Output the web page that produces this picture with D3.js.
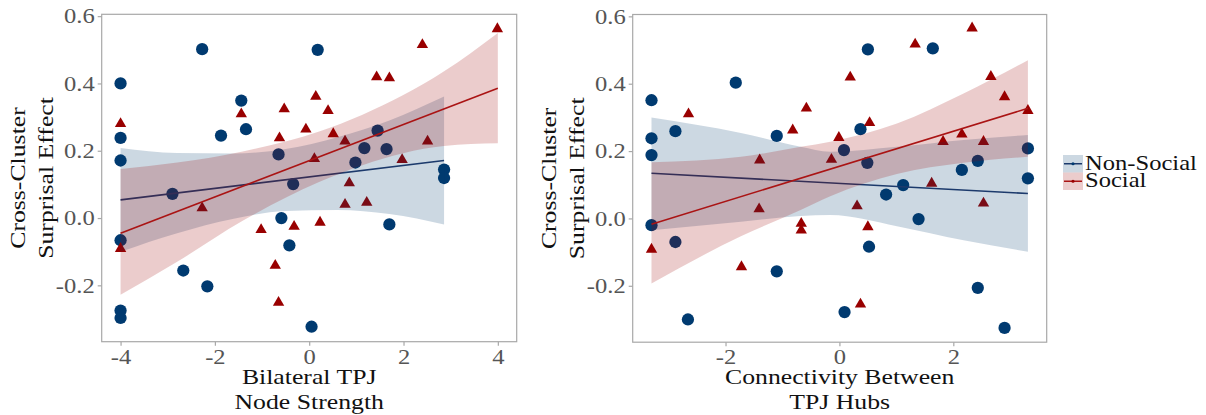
<!DOCTYPE html>
<html lang="en">
<head>
<meta charset="UTF-8">
<title>Cross-Cluster Surprisal Effect</title>
<script src="https://d3js.org/d3.v7.min.js"></script>
<style>
  body { margin: 0; background: #fff; }
  text { font-family: 'Liberation Serif', 'Times New Roman', serif; }
</style>
</head>
<body>
<script>
const width = 1206, height = 415;

// ---- left panel: Bilateral TPJ node strength ----
const leftNsX = [-4, -4, -4, -4, -4, -4, -2.27, -1.44, -1.34, -1.87, -0.65, -0.34, -2.9, -2.67, -2.16, -0.59, -0.42, 1.70, 0.05, 0.18, 1.45, 1.17, 1.64, 0.98, 2.86, 2.86];
const leftNsY = [0.40, 0.238, 0.171, -0.066, -0.275, -0.297, 0.502, 0.349, 0.264, 0.245, 0.189, 0.101, 0.072, -0.156, -0.203, 0.0, -0.081, -0.019, -0.323, 0.50, 0.26, 0.208, 0.205, 0.165, 0.144, 0.119];
const leftSX = [-4, -1.44, -0.53, -0.63, -2.27, -4, -1.02, -0.32, -0.72, -0.65, 0.23, 0.76, 1.22, 3.99, 2.40, 1.43, 1.70, 0.14, 0.40, -0.07, 0.51, 0.76, 2.51, 0.11, 1.97, 0.85];
const leftSY = [0.28, 0.309, 0.324, 0.238, 0.03, -0.091, -0.035, -0.025, -0.141, -0.251, -0.013, 0.04, 0.046, 0.562, 0.515, 0.419, 0.416, 0.361, 0.319, 0.264, 0.25, 0.228, 0.228, 0.176, 0.173, 0.104];

const leftNsBandX = [-4, -2.8, -1.6, -0.5, 0.6, 1.7, 2.86];
const leftNsUpper = [0.208, 0.193, 0.192, 0.205, 0.24, 0.29, 0.361];
const leftNsLower = [-0.100, -0.045, -0.002, 0.021, 0.024, 0.012, -0.019];
const leftNsFitX = [-4, 2.86];
const leftNsFitY = [0.054, 0.171];

const leftSBandX = [-4, -2.8, -1.41, 0.21, 1.13, 2.86, 4];
const leftSUpper = [0.146, 0.165, 0.198, 0.257, 0.307, 0.436, 0.55];
const leftSLower = [-0.228, -0.13, -0.008, 0.107, 0.157, 0.214, 0.222];
const leftSFitX = [-4, 4];
const leftSFitY = [-0.045, 0.386];

// ---- right panel: connectivity between TPJ hubs ----
const rightNsX = [-3.30, -3.30, -3.30, -2.88, -1.82, -1.10, 0.50, 1.64, 0.37, 0.08, 0.49, 3.31, 3.31, 2.43, 2.15, 1.12, 0.82, -3.30, -2.88, -2.66, -1.10, 1.39, 0.52, 2.43, 0.09, 2.90];
const rightNsY = [0.351, 0.238, 0.188, 0.259, 0.403, 0.245, 0.502, 0.505, 0.265, 0.203, 0.165, 0.208, 0.119, 0.171, 0.144, 0.099, 0.071, -0.02, -0.07, -0.30, -0.157, -0.002, -0.084, -0.206, -0.278, -0.325];
const rightSX = [-2.65, -0.82, -1.40, -3.30, -1.41, -1.72, -0.67, -0.67, 0.31, 0.50, 0.37, 2.53, 2.33, 1.33, 0.19, 2.66, 2.90, -0.58, 3.31, 0.53, -0.01, 2.15, 2.53, 1.82, -0.14, 1.62];
const rightSY = [0.31, 0.262, 0.173, -0.092, 0.028, -0.144, -0.015, -0.035, 0.037, -0.025, -0.255, 0.045, 0.565, 0.517, 0.419, 0.421, 0.361, 0.327, 0.32, 0.284, 0.24, 0.25, 0.228, 0.228, 0.175, 0.104];

const rightNsBandX = [-3.3, -1.73, -0.68, -0.16, 1.01, 2.18, 3.31];
const rightNsUpper = [0.30, 0.254, 0.213, 0.198, 0.213, 0.233, 0.248];
const rightNsLower = [-0.035, -0.01, 0.007, 0.01, -0.023, -0.065, -0.099];
const rightNsFitX = [-3.3, 3.31];
const rightNsFitY = [0.134, 0.074];

const rightSBandX = [-3.3, -1.73, -0.68, -0.16, 1.01, 2.18, 3.31];
const rightSUpper = [0.167, 0.183, 0.213, 0.228, 0.282, 0.371, 0.47];
const rightSLower = [-0.193, -0.053, 0.025, 0.066, 0.132, 0.165, 0.183];
const rightSFitX = [-3.3, 3.31];
const rightSFitY = [-0.017, 0.327];

const yTicks = [-0.2, 0.0, 0.2, 0.4, 0.6];
const leftXTicks = [-4, -2, 0, 2, 4];
const rightXTicks = [-2, 0, 2];
const legendLabels = ["Non-Social", "Social"];

const blue = "#003a70", red = "#990000";
const colors = { ns: blue, s: red };
const lineColors = { ns: "#1c3a6c", s: "#aa1414" };
const stretch = 1.17;

const svg = d3.select("body").append("svg").attr("width", width).attr("height", height);

function wideText(g, x, y, rot, str, size, anchor, fill) {
    return g.append("text")
        .attr("transform", `translate(${x},${y}) rotate(${rot}) scale(${stretch},1)`)
        .attr("text-anchor", anchor)
        .style("font-size", size + "px")
        .attr("fill", fill)
        .text(str);
}

function zip(xs, ys) { return xs.map((v, i) => [v, ys[i]]); }

function drawPanel(cfg) {
    const x = d3.scaleLinear().domain(cfg.xDomain).range(cfg.xRange);
    const y = d3.scaleLinear().domain([-0.3675, 0.6055]).range([cfg.bottom, cfg.top]);
    const g = svg.append("g");

    // points (under the ribbons, as in the original)
    const circ = d3.symbol().type(d3.symbolCircle).size(118);
    const tri = d3.symbol().type(d3.symbolTriangle).size(56);
    g.selectAll("path.ns").data(zip(cfg.ns.x, cfg.ns.y)).join("path")
        .attr("class", "ns")
        .attr("transform", d => `translate(${x(d[0])},${y(d[1])})`)
        .attr("d", circ).attr("fill", colors.ns);
    g.selectAll("path.s").data(zip(cfg.s.x, cfg.s.y)).join("path")
        .attr("class", "s")
        .attr("transform", d => `translate(${x(d[0])},${y(d[1])})`)
        .attr("d", tri).attr("fill", colors.s);

    const area = d3.area()
        .x(d => x(d.x)).y0(d => y(d.lo)).y1(d => y(d.hi))
        .curve(d3.curveMonotoneX);
    const line = d3.line().x(d => x(d[0])).y(d => y(d[1]));

    ["ns", "s"].forEach(k => {
        const b = cfg[k];
        const band = b.bandX.map((v, i) => ({ x: v, lo: b.lower[i], hi: b.upper[i] }));
        g.append("path").attr("d", area(band))
            .attr("fill", colors[k]).attr("fill-opacity", 0.2);
        g.append("path").attr("d", line(zip(b.fitX, b.fitY)))
            .attr("fill", "none").attr("stroke", lineColors[k]).attr("stroke-width", 1.6);
    });

    // panel border
    g.append("rect")
        .attr("x", cfg.xRange[0]).attr("y", cfg.top)
        .attr("width", cfg.xRange[1] - cfg.xRange[0]).attr("height", cfg.bottom - cfg.top)
        .attr("fill", "none").attr("stroke", "#a8a8a8").attr("stroke-width", 1.2);

    // axes
    const fmtY = d => d.toFixed(1);
    const ya = g.append("g").attr("transform", `translate(${cfg.xRange[0]},0)`)
        .call(d3.axisLeft(y).tickValues(yTicks).tickFormat(fmtY).tickSize(4).tickPadding(2));
    const xa = g.append("g").attr("transform", `translate(0,${cfg.bottom})`)
        .call(d3.axisBottom(x).tickValues(cfg.xTicks).tickFormat(d => String(d)).tickSize(4).tickPadding(3));
    [ya, xa].forEach(a => {
        a.select(".domain").remove();
        a.selectAll(".tick line").attr("stroke", "#a8a8a8").attr("stroke-width", 1.2);
        a.selectAll(".tick text")
            .attr("fill", "#555")
            .style("font-size", "21px")
            .style("font-family", "'Liberation Serif', serif")
            .attr("transform", `scale(${stretch},1)`);
    });

    // titles
    const cx = (cfg.xRange[0] + cfg.xRange[1]) / 2;
    wideText(g, cx, 384, 0, cfg.xTitle[0], 22, "middle", "#111");
    wideText(g, cx, 409, 0, cfg.xTitle[1], 22, "middle", "#111");
    const cy = (cfg.top + cfg.bottom) / 2;
    wideText(g, cfg.xRange[0] - 77, cy, -90, "Cross-Cluster", 22, "middle", "#111");
    wideText(g, cfg.xRange[0] - 48.5, cy, -90, "Surprisal Effect", 22, "middle", "#111");
}

drawPanel({
    xDomain: [-4.4, 4.4], xRange: [101.7, 516.7], top: 14.3, bottom: 341.7,
    xTicks: leftXTicks, xTitle: ["Bilateral TPJ", "Node Strength"],
    ns: { x: leftNsX, y: leftNsY, bandX: leftNsBandX, upper: leftNsUpper, lower: leftNsLower, fitX: leftNsFitX, fitY: leftNsFitY },
    s:  { x: leftSX,  y: leftSY,  bandX: leftSBandX,  upper: leftSUpper,  lower: leftSLower,  fitX: leftSFitX,  fitY: leftSFitY }
});

drawPanel({
    xDomain: [-3.63, 3.64], xRange: [632.7, 1046.7], top: 14.5, bottom: 342.2,
    xTicks: rightXTicks, xTitle: ["Connectivity Between", "TPJ Hubs"],
    ns: { x: rightNsX, y: rightNsY, bandX: rightNsBandX, upper: rightNsUpper, lower: rightNsLower, fitX: rightNsFitX, fitY: rightNsFitY },
    s:  { x: rightSX,  y: rightSY,  bandX: rightSBandX,  upper: rightSUpper,  lower: rightSLower,  fitX: rightSFitX,  fitY: rightSFitY }
});

// legend
const leg = svg.append("g").attr("transform", "translate(1063,155)");
const keys = ["ns", "s"];
legendLabels.forEach((lab, i) => {
    const k = keys[i];
    const row = leg.append("g").attr("transform", `translate(0,${i * 17.5})`);
    row.append("rect").attr("width", 20).attr("height", 17.5)
        .attr("fill", colors[k]).attr("fill-opacity", 0.2);
    row.append("line").attr("x1", 1).attr("x2", 19).attr("y1", 8.75).attr("y2", 8.75)
        .attr("stroke", lineColors[k]).attr("stroke-width", 1.5);
    row.append("circle").attr("cx", 10).attr("cy", 8.75).attr("r", 1.6).attr("fill", colors[k]);
    wideText(row, 22, 14.5, 0, lab, 21, "start", "#111");
});
</script>
</body>
</html>
